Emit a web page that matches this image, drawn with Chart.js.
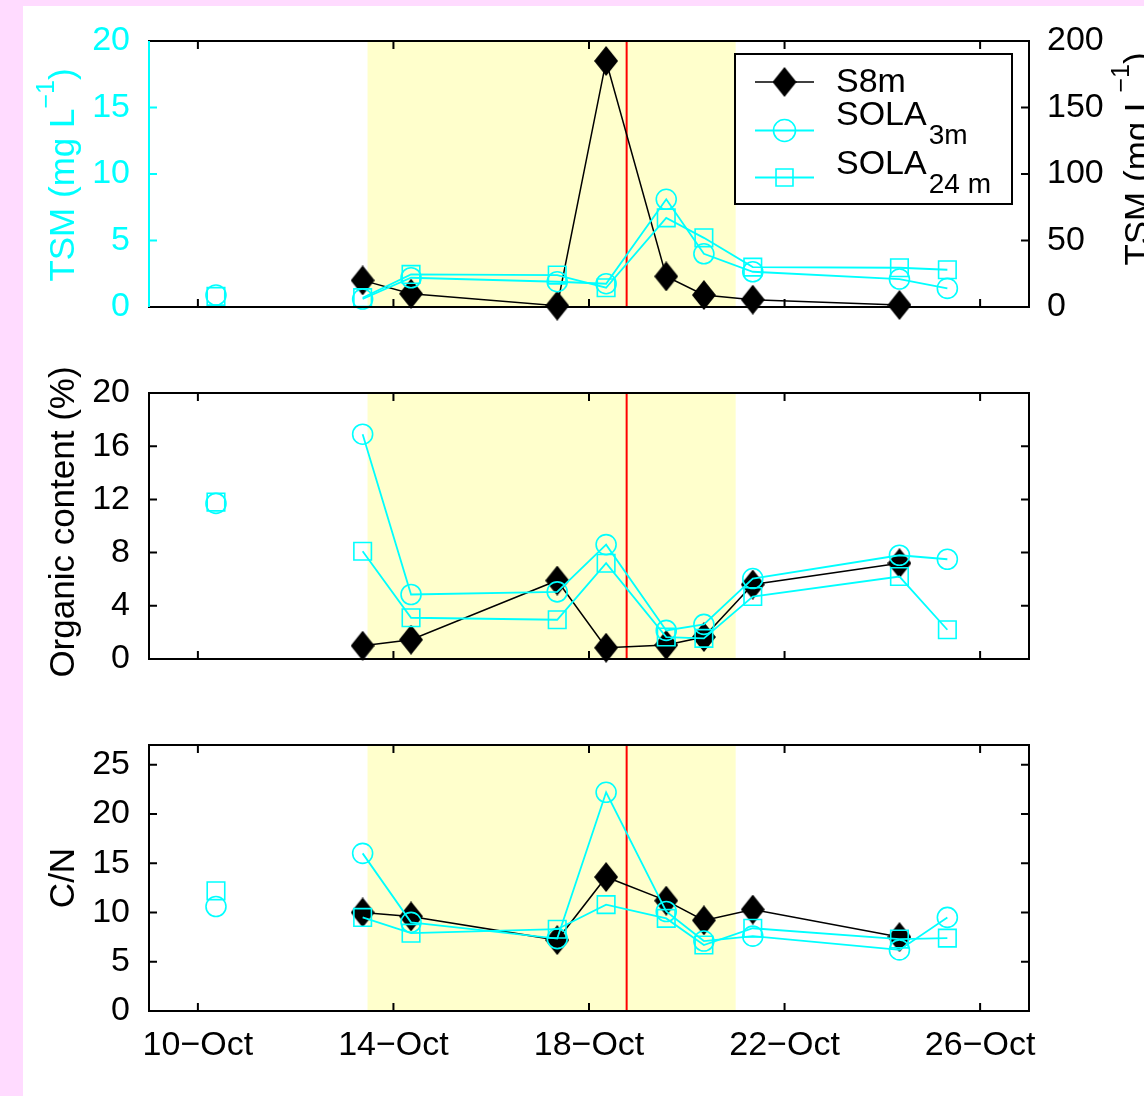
<!DOCTYPE html>
<html>
<head>
<meta charset="utf-8">
<script src="https://cdn.jsdelivr.net/npm/chart.js@4.4.0/dist/chart.umd.min.js"></script>
<style>
  html, body { margin: 0; padding: 0; background: #FFDBFF; }
  #page { position: relative; width: 1144px; height: 1096px; overflow: hidden; background: #FFDBFF; }
  #sheet { position: absolute; left: 23px; top: 6px; right: 0; bottom: 0; background: #FFFFFF; }
  canvas { position: absolute; left: 0; }
</style>
</head>
<body>
<div id="page">
  <div id="sheet"></div>
  <canvas id="c1" width="1144" height="345" style="top:0px"></canvas>
  <canvas id="c2" width="1144" height="365" style="top:345px"></canvas>
  <canvas id="c3" width="1144" height="386" style="top:710px"></canvas>
</div>
<script>
// ---------------- data ----------------
const days = [10.37, 13.37, 14.36, 17.35, 18.35, 19.58, 20.35, 21.35, 24.35, 25.33]; // day of October
const tickDays = [10, 14, 18, 22, 26];
const tickLabels = ['10\u2212Oct', '14\u2212Oct', '18\u2212Oct', '22\u2212Oct', '26\u2212Oct'];
const shadeStart = 13.47;
const shadeEnd = 21.0;
const eventDay = 18.77;

// TSM (S8m on right axis, SOLA on left axis)
const tsmS8m     = [null, 20, 10, 1, 185, 23, 9, 5.5, 1.5, null];
const tsmSola3m  = [0.9, 0.6, 2.2, 1.9, 1.75, 8.1, 4.0, 2.65, 2.1, 1.4];
const tsmSola24m = [0.8, 0.7, 2.45, 2.4, 1.45, 6.7, 5.2, 3.0, 2.95, 2.8];
const tsmTicks = [0, 5, 10, 15, 20];
const tsmRightTicks = [0, 50, 100, 150, 200];

// Organic content (%)
const ocS8m     = [null, 1.0, 1.45, 5.9, 0.85, 1.05, 1.65, 5.6, 7.2, null];
const ocSola3m  = [11.7, 16.9, 4.85, 5.05, 8.6, 2.15, 2.6, 6.05, 7.8, 7.5];
const ocSola24m = [11.8, 8.1, 3.1, 2.95, 7.2, 1.65, 1.55, 4.7, 6.2, 2.2];
const ocTicks = [0, 4, 8, 12, 16, 20];

// C/N
const cnS8m     = [null, 10.0, 9.6, 7.2, 13.6, 11.2, 9.2, 10.3, 7.5, null];
const cnSola3m  = [10.6, 16.0, 9.0, 7.35, 22.2, 10.1, 7.1, 7.6, 6.2, 9.5];
const cnSola24m = [12.2, 9.5, 7.9, 8.3, 10.8, 9.4, 6.7, 8.4, 7.3, 7.4];
const cnTicks = [0, 5, 10, 15, 20, 25];

const seriesNames = ['S8m', 'SOLA', 'SOLA'];
const seriesSubs = ['', '3m', '24 m'];

// ---------------- styling ----------------
const FONT = '"Liberation Sans", Arial, Helvetica, sans-serif';
const CYAN = '#00FFFF';
const BLACK = '#000000';
const SHADE = '#FFFFCC';
const RED = '#FF0000';

Chart.defaults.font.family = FONT;
Chart.defaults.font.size = 34;
Chart.defaults.color = BLACK;

const diamond = (() => {
  const c = document.createElement('canvas');
  c.width = 24; c.height = 30;
  const g = c.getContext('2d');
  g.fillStyle = BLACK;
  g.beginPath();
  g.moveTo(12, 0); g.lineTo(24, 15); g.lineTo(12, 30); g.lineTo(0, 15);
  g.closePath(); g.fill();
  return c;
})();

const pts = arr => days.map((d, i) => ({ x: d, y: arr[i] }));
const hideFirst = ctx => (ctx.p0DataIndex === 0 ? 'rgba(0,0,0,0)' : undefined);

function seriesSets(s8, s3, s24, s8Axis) {
  return [
    { label: 'S8m', data: pts(s8), yAxisID: s8Axis, borderColor: BLACK, borderWidth: 1.5,
      pointStyle: diamond, pointRadius: 12, order: 3, clip: false, tension: 0, fill: false },
    { label: 'SOLA3m', data: pts(s3), yAxisID: 'y', borderColor: CYAN, borderWidth: 1.8,
      pointStyle: 'circle', pointRadius: 10, pointBorderWidth: 1.6, pointBorderColor: CYAN,
      pointBackgroundColor: 'rgba(0,0,0,0)', order: 2, clip: false, tension: 0, fill: false,
      segment: { borderColor: hideFirst } },
    { label: 'SOLA24m', data: pts(s24), yAxisID: 'y', borderColor: CYAN, borderWidth: 1.8,
      pointStyle: 'rect', pointRadius: 12.4, pointBorderWidth: 1.6, pointBorderColor: CYAN,
      pointBackgroundColor: 'rgba(0,0,0,0)', order: 1, clip: false, tension: 0, fill: false,
      segment: { borderColor: hideFirst } }
  ];
}

// ---------------- plugins ----------------
const axesFrame = {
  id: 'axesFrame',
  beforeDatasetsDraw(chart) {
    const { ctx, chartArea: { top, bottom } } = chart;
    const xs = chart.scales.x;
    const x0 = xs.getPixelForValue(shadeStart), x1 = xs.getPixelForValue(shadeEnd);
    ctx.save();
    ctx.fillStyle = SHADE;
    ctx.fillRect(x0, top, x1 - x0, bottom - top);
    const xe = xs.getPixelForValue(eventDay);
    ctx.strokeStyle = RED; ctx.lineWidth = 2;
    ctx.beginPath(); ctx.moveTo(xe, top); ctx.lineTo(xe, bottom); ctx.stroke();
    ctx.restore();
  },
  afterDatasetsDraw(chart, args, o) {
    const { ctx, chartArea: { left, right, top, bottom } } = chart;
    const xs = chart.scales.x, ys = chart.scales.y, yr = chart.scales.y2 || chart.scales.y;
    const L = 8;
    ctx.save();
    ctx.lineWidth = 2;
    ctx.strokeStyle = BLACK;
    ctx.beginPath();
    tickDays.forEach(v => {
      const px = xs.getPixelForValue(v);
      ctx.moveTo(px, bottom); ctx.lineTo(px, bottom - L);
      ctx.moveTo(px, top); ctx.lineTo(px, top + L);
    });
    ctx.stroke();
    ctx.strokeStyle = o.leftColor;
    ctx.beginPath();
    ys.ticks.forEach(t => { const py = ys.getPixelForValue(t.value); ctx.moveTo(left, py); ctx.lineTo(left + L, py); });
    ctx.stroke();
    ctx.strokeStyle = o.rightColor;
    ctx.beginPath();
    yr.ticks.forEach(t => { const py = yr.getPixelForValue(t.value); ctx.moveTo(right, py); ctx.lineTo(right - L, py); });
    ctx.stroke();
    // frame
    ctx.strokeStyle = BLACK;
    ctx.beginPath(); ctx.moveTo(left - 1, top); ctx.lineTo(right + 1, top);
    ctx.moveTo(left - 1, bottom); ctx.lineTo(right + 1, bottom); ctx.stroke();
    ctx.strokeStyle = o.leftColor;
    ctx.beginPath(); ctx.moveTo(left, top); ctx.lineTo(left, bottom); ctx.stroke();
    ctx.strokeStyle = o.rightColor;
    ctx.beginPath(); ctx.moveTo(right, top - 1); ctx.lineTo(right, bottom + 1); ctx.stroke();
    ctx.restore();
  }
};

function drawVTitle(ctx, it) {
  const main = `${it.size}px ${FONT}`, small = `${it.supSize || 24}px ${FONT}`;
  ctx.save();
  ctx.font = main; const w1 = ctx.measureText(it.text).width;
  const w3 = it.after ? ctx.measureText(it.after).width : 0;
  ctx.font = small; const w2 = it.sup ? ctx.measureText(it.sup).width : 0;
  const total = w1 + w2 + w3;
  ctx.translate(it.x, it.y);
  ctx.rotate(-Math.PI / 2);
  ctx.fillStyle = it.color;
  ctx.textAlign = 'left';
  ctx.textBaseline = 'alphabetic';
  let cx = -total / 2;
  ctx.font = main; ctx.fillText(it.text, cx, 0); cx += w1;
  if (it.sup) { ctx.font = small; ctx.fillText(it.sup, cx, -it.supRise); cx += w2; }
  if (it.after) { ctx.font = main; ctx.fillText(it.after, cx, 0); }
  ctx.restore();
}

const axisTitles = {
  id: 'axisTitles',
  afterDraw(chart, args, o) { (o.items || []).forEach(it => drawVTitle(chart.ctx, it)); }
};

const boxLegend = {
  id: 'boxLegend',
  afterDraw(chart, args, o) {
    if (!o.show) return;
    const ctx = chart.ctx;
    const sets = chart.data.datasets;
    ctx.save();
    ctx.fillStyle = '#FFFFFF';
    ctx.fillRect(o.x, o.y, o.w, o.h);
    ctx.strokeStyle = BLACK; ctx.lineWidth = 2;
    ctx.strokeRect(o.x, o.y, o.w, o.h);
    sets.forEach((ds, i) => {
      const ry = o.rows[i];
      ctx.strokeStyle = ds.borderColor; ctx.lineWidth = ds.borderWidth;
      ctx.beginPath(); ctx.moveTo(o.lineX0, ry); ctx.lineTo(o.lineX1, ry); ctx.stroke();
      const mx = (o.lineX0 + o.lineX1) / 2;
      ctx.strokeStyle = ds.pointBorderColor || BLACK;
      ctx.fillStyle = ds.pointBackgroundColor || BLACK;
      ctx.lineWidth = ds.pointBorderWidth || 1;
      Chart.helpers.drawPoint(ctx, { pointStyle: ds.pointStyle, radius: o.radius[i], borderWidth: ds.pointBorderWidth || 1, rotation: 0 }, mx, ry);
      ctx.fillStyle = BLACK;
      ctx.textAlign = 'left'; ctx.textBaseline = 'alphabetic';
      ctx.font = `34px ${FONT}`;
      ctx.fillText(seriesNames[i], o.textX, o.baselines[i]);
      if (seriesSubs[i]) {
        const w = ctx.measureText(seriesNames[i]).width;
        ctx.font = `28px ${FONT}`;
        ctx.fillText(seriesSubs[i], o.textX + w + 2, o.baselines[i] + o.subDrop);
      }
    });
    ctx.restore();
  }
};

// ---------------- chart factory ----------------
function makeChart(id, cfg) {
  const scales = {
    x: {
      type: 'linear', position: 'bottom', min: 9, max: 27,
      grid: { display: false }, border: { display: false },
      afterBuildTicks: s => { s.ticks = tickDays.map(v => ({ value: v })); },
      afterFit: s => { s.height = cfg.xHeight; },
      ticks: {
        display: cfg.showX, padding: 6, maxRotation: 0, autoSkip: false, color: BLACK,
        callback: v => { const i = tickDays.indexOf(v); return i >= 0 ? tickLabels[i] : ''; }
      }
    },
    y: {
      type: 'linear', position: 'left', min: cfg.yMin, max: cfg.yMax,
      grid: { display: false }, border: { display: false },
      afterBuildTicks: s => { s.ticks = cfg.yTicks.map(v => ({ value: v })); },
      afterFit: s => { s.width = 149; },
      ticks: { padding: 11, color: cfg.leftColor }
    }
  };
  if (cfg.y2Ticks) {
    scales.y2 = {
      type: 'linear', position: 'right', min: 0, max: 200,
      grid: { display: false }, border: { display: false },
      afterBuildTicks: s => { s.ticks = cfg.y2Ticks.map(v => ({ value: v })); },
      afterFit: s => { s.width = 115; },
      ticks: { padding: 10, color: BLACK }
    };
  }
  return new Chart(document.getElementById(id), {
    type: 'line',
    data: { datasets: cfg.datasets },
    options: {
      responsive: false, animation: false, devicePixelRatio: 1,
      layout: { padding: { top: cfg.top, left: 0, right: cfg.y2Ticks ? 0 : 115, bottom: 0 } },
      scales,
      plugins: {
        legend: { display: false }, tooltip: { enabled: false },
        axesFrame: { leftColor: cfg.leftColor, rightColor: BLACK },
        axisTitles: { items: cfg.titles },
        boxLegend: cfg.legend || { show: false }
      }
    },
    plugins: [axesFrame, axisTitles, boxLegend]
  });
}

// Panel 1: TSM
makeChart('c1', {
  datasets: seriesSets(tsmS8m, tsmSola3m, tsmSola24m, 'y2'),
  yMin: 0, yMax: 20, yTicks: tsmTicks, y2Ticks: tsmRightTicks,
  leftColor: CYAN, top: 41, xHeight: 38, showX: false,
  titles: [
    { text: 'TSM (mg L', sup: '\u22121', after: ')', size: 35, supSize: 25, supRise: 20, color: CYAN, x: 74, y: 175 },
    { text: 'TSM (mg L', sup: '\u22121', after: ')', size: 35, supSize: 25, supRise: 20, color: BLACK, x: 1149, y: 159 }
  ],
  legend: {
    show: true, x: 735, y: 54, w: 277, h: 150,
    lineX0: 755, lineX1: 814, rows: [82, 130.5, 177.5], radius: [12, 11, 12],
    textX: 836, baselines: [92, 125, 174], subDrop: 18.5
  }
});

// Panel 2: Organic content
makeChart('c2', {
  datasets: seriesSets(ocS8m, ocSola3m, ocSola24m, 'y'),
  yMin: 0, yMax: 20, yTicks: ocTicks,
  leftColor: BLACK, top: 48, xHeight: 51, showX: false,
  titles: [ { text: 'Organic content (%)', size: 35, color: BLACK, x: 74, y: 177 } ]
});

// Panel 3: C/N
makeChart('c3', {
  datasets: seriesSets(cnS8m, cnSola3m, cnSola24m, 'y'),
  yMin: 0, yMax: 27, yTicks: cnTicks,
  leftColor: BLACK, top: 35, xHeight: 85, showX: true,
  titles: [ { text: 'C/N', size: 35, color: BLACK, x: 74, y: 168 } ]
});
</script>
</body>
</html>
